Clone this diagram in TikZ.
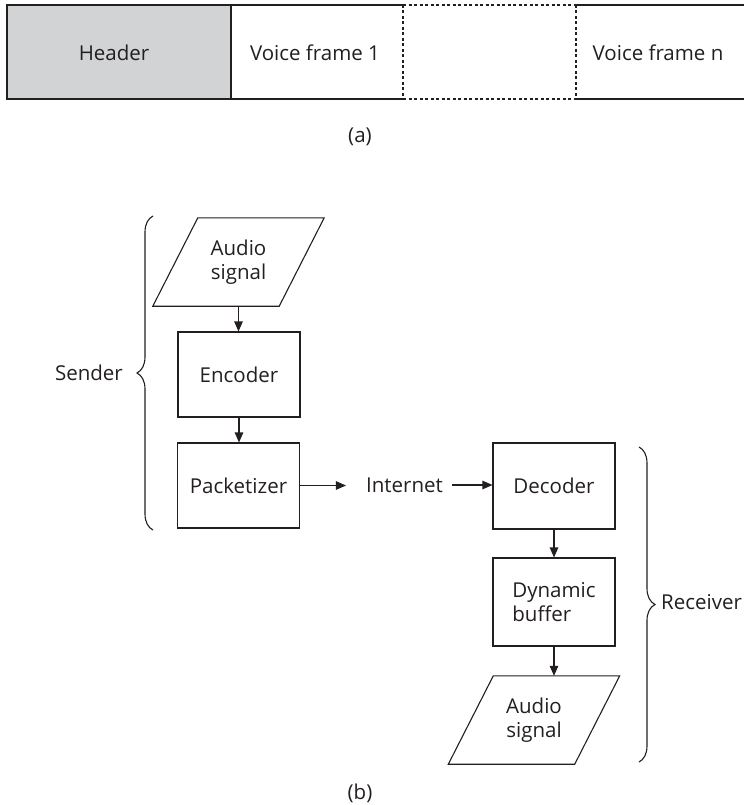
\documentclass[tikz,border=0pt]{standalone}
\usepackage{fontspec}
\setmainfont{Open Sans}
\usetikzlibrary{arrows.meta,decorations.pathreplacing}
\definecolor{ink}{HTML}{231F20}
\definecolor{hdrgray}{HTML}{D1D3D4}
\begin{document}
\begin{tikzpicture}[x=1pt,y=-1pt,
  every node/.style={font=\fontsize{20.5}{24}\selectfont, text=ink},
  bar/.style={draw=ink, line width=1.2pt},
  dbar/.style={draw=ink, line width=1.2pt, dash pattern=on 3pt off 2.5pt},
  box/.style={draw=ink, line width=1.1pt, minimum width=122pt, minimum height=86pt, inner sep=2pt},
  para/.style={minimum width=126pt, minimum height=88pt, inner sep=0pt, align=center},
  pline/.style={draw=ink, line width=1.1pt, line join=miter},
  arr/.style={draw=ink, line width=1.1pt, -{Triangle[length=10pt,width=8.5pt]}},
  brc/.style={draw=ink, line width=1.1pt, decorate, decoration={brace, amplitude=16pt}},
  lbl/.style={inner sep=2pt}
]
\useasboundingbox (0,0) rectangle (744,805);

% (a) packet bar
\fill[hdrgray] (7,5) rectangle (231,99);
\draw[bar] (403,5) -- (7,5) -- (7,99) -- (403,99);
\draw[bar] (231,5) -- (231,99);
\draw[dbar] (403,5) -- (576,5);
\draw[dbar] (403,99) -- (576,99);
\draw[dbar] (403,5) -- (403,99);
\draw[dbar] (576,5) -- (576,99);
\draw[bar] (576,5) -- (744,5);
\draw[bar] (576,99) -- (744,99);
\node (hdr) at (114,53) {Header};
\node (vf1) at (315,53) {Voice frame 1};
\node (vfn) at (658,53) {Voice frame n};
\node (capa) at (360,137) {(a)};

% (b) sender
\node[para] (as1) at (238.5,262) {Audio\\signal};
\draw[pline] ([xshift=22.5pt]as1.north west) -- ([xshift=22.5pt]as1.north east)
  -- ([xshift=-22.5pt]as1.south east) -- ([xshift=-22.5pt]as1.south west) -- cycle;
\node[box, minimum height=85pt] (enc) at (239,374.5) {Encoder};
\node[box, minimum height=85pt] (pack) at (238.5,485.5) {Packetizer};
\node[inner sep=0pt] (inet) at (404.5,485) {Internet};

% receiver
\node[box] (dec) at (554,486) {Decoder};
\node[box, minimum height=88pt, align=left] (buf) at (554,602) {Dynamic\\buffer};
\node[para] (as2) at (534,720) {Audio\\signal};
\draw[pline] ([xshift=22.5pt]as2.north west) -- ([xshift=22.5pt]as2.north east)
  -- ([xshift=-22.5pt]as2.south east) -- ([xshift=-22.5pt]as2.south west) -- cycle;

% arrows
\draw[arr] (as1.south) -- (as1.south |- enc.north);
\draw[arr] (enc.south) -- (enc.south |- pack.north);
\draw[arr, shorten >=20pt] (pack.east) -- (pack.east -| inet.west);
\draw[arr, shorten <=9pt] (inet.east) -- (inet.east -| dec.west);
\draw[arr] (dec.south) -- (buf.north);
\draw[arr] (buf.south) -- (buf.south |- as2.north);

% braces
\coordinate (sb1) at (153,530);
\coordinate (sb2) at (153,216);
\draw[brc] (sb1) -- (sb2);
\node[lbl, anchor=east] (snd) at (125,373) {Sender};
\coordinate (rb1) at (639,447);
\coordinate (rb2) at (639,762);
\draw[brc] (rb1) -- (rb2);
\node[lbl, anchor=west] (rcv) at (659,602) {Receiver};

\node (capb) at (360,793) {(b)};
\end{tikzpicture}
\end{document}
